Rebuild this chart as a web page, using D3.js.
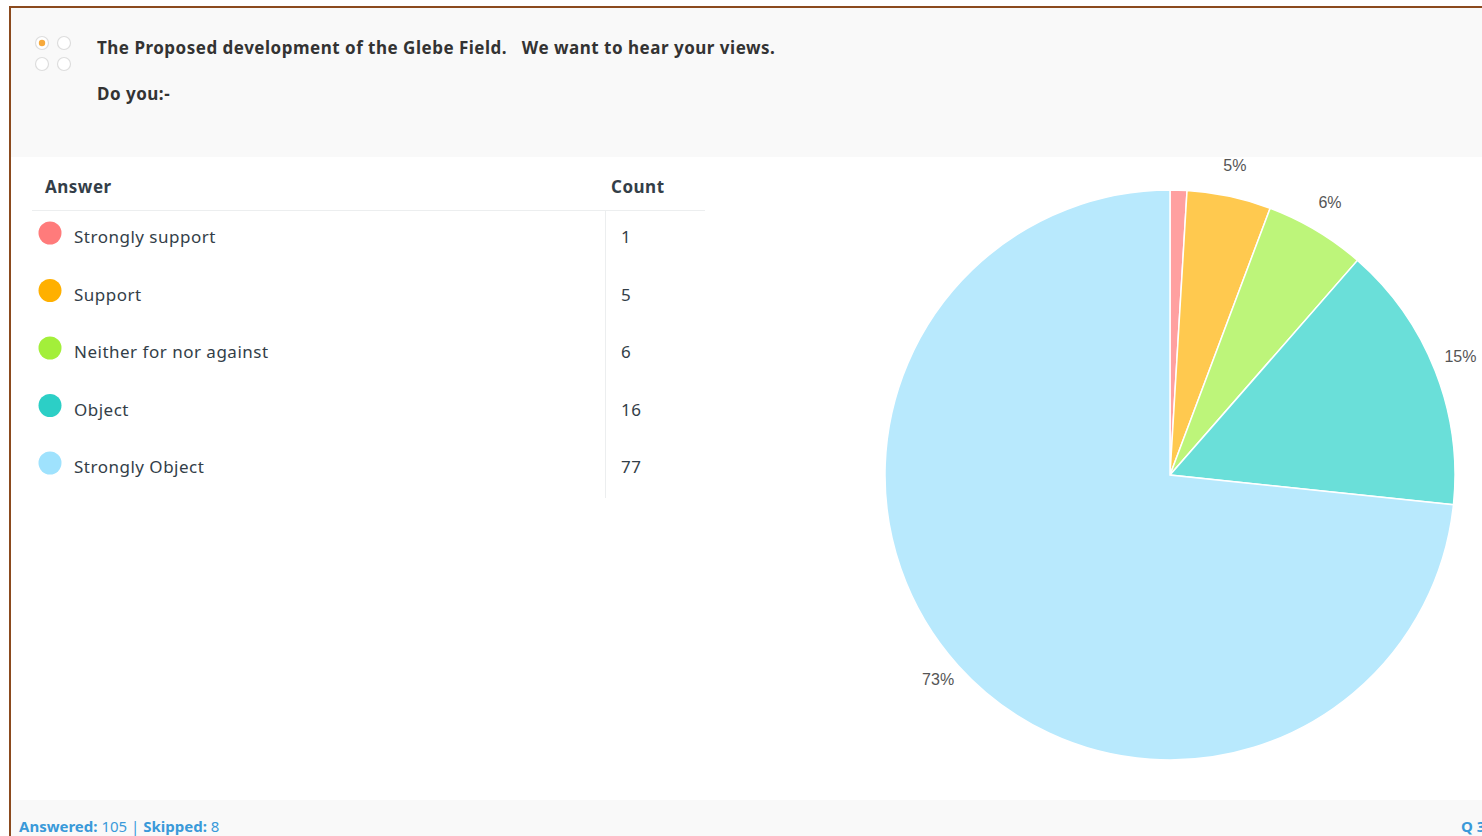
<!DOCTYPE html>
<html>
<head>
<meta charset="utf-8">
<script src="https://cdn.jsdelivr.net/npm/d3@7"></script>
<style>
  body { margin: 0; background: #fff; overflow: hidden; }
  svg { display: block; }
  .ui { font-family: "Noto Sans", "Open Sans", sans-serif; letter-spacing: 0.5px; }
  .foot { font-family: "Noto Sans", "Open Sans", sans-serif; }
  .pie-label { font-family: "Liberation Sans", Arial, sans-serif; font-size: 16px; fill: #555; }
</style>
</head>
<body>
<div id="chart"></div>
<script>
// --- Data ---
const answers = ['Strongly support', 'Support', 'Neither for nor against', 'Object', 'Strongly Object'];
const counts = [1, 5, 6, 16, 77];
const legendColors = ['#ff7b7b', '#ffb000', '#a3ef3a', '#2ccfc6', '#9fe2fd'];
const sliceColors = ['#ffa0a0', '#ffc94f', '#bdf57a', '#6adfd9', '#b8e9fd'];
const titleLines = ['The Proposed development of the Glebe Field.   We want to hear your views.', 'Do you:-'];
const answered = 105, skipped = 8;

const W = 1482, H = 836;

const svg = d3.select('#chart').append('svg')
  .attr('width', W).attr('height', H);

// card background
svg.append('rect').attr('x', 10).attr('y', 7).attr('width', W).attr('height', H)
  .attr('fill', '#fff');

// --- Pie ---
const total = d3.sum(counts);
const data = answers.map((a, i) => ({ answer: a, count: counts[i], i }));
const cx = 1170, cy = 475, r = 285;

const pie = d3.pie().sort(null).value(d => d.count);
const arc = d3.arc().innerRadius(0).outerRadius(r);
const labelArc = d3.arc().innerRadius(312).outerRadius(312);

const pieG = svg.append('g').attr('transform', `translate(${cx},${cy})`);
const arcs = pie(data);

pieG.selectAll('path.slice')
  .data(arcs).enter().append('path')
  .attr('class', 'slice')
  .attr('d', arc)
  .attr('fill', d => sliceColors[d.data.i])
  .attr('stroke', '#fff')
  .attr('stroke-width', 1.5);

// the 1% label sits under the header in the original, so small slices get none
pieG.selectAll('text.pie-label')
  .data(arcs.filter(d => d.data.count / total >= 0.02))
  .enter().append('text')
  .attr('class', 'pie-label')
  .attr('transform', d => `translate(${labelArc.centroid(d)})`)
  .attr('text-anchor', 'middle')
  .attr('dy', '0.05em')
  .text(d => Math.round(d.data.count / total * 100) + '%');

// --- Header (drawn over pie) ---
svg.append('rect').attr('x', 11).attr('y', 8).attr('width', W).attr('height', 149)
  .attr('fill', '#f9f9f9');

// icon: 2x2 circles
const iconPos = [[42, 43], [64, 43], [42, 64], [64, 64]];
svg.selectAll('circle.icon')
  .data(iconPos).enter().append('circle')
  .attr('class', 'icon')
  .attr('cx', d => d[0]).attr('cy', d => d[1]).attr('r', 6.5)
  .attr('fill', '#fff').attr('stroke', '#ddd').attr('stroke-width', 1.2);
svg.append('circle').attr('cx', 42).attr('cy', 43).attr('r', 3.2).attr('fill', '#f7a93b');

svg.selectAll('text.title')
  .data(titleLines).enter().append('text')
  .attr('class', 'title ui')
  .attr('x', 97)
  .attr('y', (d, i) => 54 + i * 46)
  .attr('font-size', 17).attr('font-weight', 700).attr('fill', '#333')
  .style('white-space', 'pre')
  .text(d => d);

// --- Table ---
const rowY = d3.scalePoint().domain(answers).range([237, 467]);

const table = svg.append('g').attr('class', 'ui');
table.append('text').attr('x', 45).attr('y', 193)
  .attr('font-size', 17).attr('font-weight', 700).attr('fill', '#333e48').text('Answer');
table.append('text').attr('x', 611).attr('y', 193)
  .attr('font-size', 17).attr('font-weight', 700).attr('fill', '#333e48').text('Count');
table.append('line').attr('x1', 32).attr('x2', 705).attr('y1', 210.5).attr('y2', 210.5)
  .attr('stroke', '#eceeef');
table.append('line').attr('x1', 605.5).attr('x2', 605.5).attr('y1', 211).attr('y2', 498)
  .attr('stroke', '#eceeef');

const rows = table.selectAll('g.row')
  .data(data).enter().append('g')
  .attr('class', 'row')
  .attr('transform', d => `translate(0,${rowY(d.answer)})`);
rows.append('circle').attr('cx', 50).attr('cy', -4).attr('r', 11.5)
  .attr('fill', d => legendColors[d.i]);
rows.append('text').attr('x', 74).attr('y', 6)
  .attr('font-size', 17).attr('fill', '#333e48').text(d => d.answer);
rows.append('text').attr('x', 621).attr('y', 6)
  .attr('font-size', 17).attr('fill', '#333e48').text(d => d.count);

// --- Footer ---
svg.append('rect').attr('x', 11).attr('y', 800).attr('width', W).attr('height', 40)
  .attr('fill', '#f9f9f9');
const foot = svg.append('text').attr('class', 'foot').attr('x', 19).attr('y', 832)
  .attr('font-size', 15).attr('fill', '#3a9ad9');
foot.append('tspan').attr('font-weight', 700).text('Answered: ');
foot.append('tspan').text(answered + ' | ');
foot.append('tspan').attr('font-weight', 700).text('Skipped: ');
foot.append('tspan').text(skipped);
svg.append('text').attr('class', 'foot').attr('x', 1461).attr('y', 832)
  .attr('font-size', 15).attr('font-weight', 700).attr('fill', '#3a9ad9').text('Q 3');

// --- Border ---
svg.append('line').attr('x1', 10).attr('x2', W).attr('y1', 7).attr('y2', 7)
  .attr('stroke', '#8b4a1e').attr('stroke-width', 2);
svg.append('line').attr('x1', 10).attr('x2', 10).attr('y1', 6).attr('y2', H)
  .attr('stroke', '#8b4a1e').attr('stroke-width', 2);
</script>
</body>
</html>
